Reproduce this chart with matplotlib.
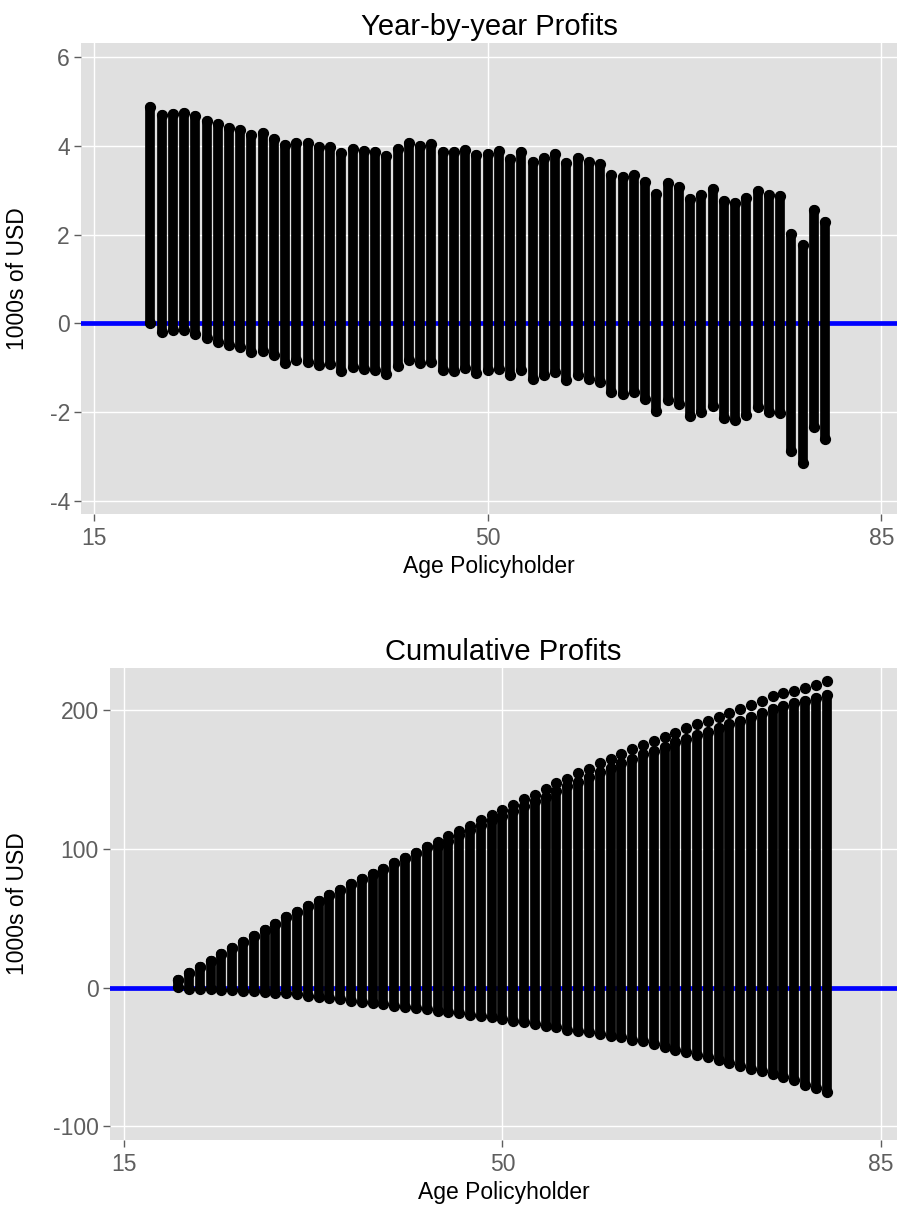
import numpy as np
import matplotlib
matplotlib.use("Agg")
from matplotlib import pyplot as plt

plt.rcParams['font.family'] = ['Liberation Sans', 'DejaVu Sans']
plt.rcParams['axes.unicode_minus'] = False

ages = list(range(20, 81))

# year-by-year profits, 1000s of USD (highest and lowest simulated value per age)
year_max = [4.87, 4.70, 4.72, 4.74, 4.66, 4.56, 4.48, 4.40, 4.35, 4.24,
            4.28, 4.15, 4.02, 4.07, 4.05, 3.97, 3.98, 3.83, 3.93, 3.88,
            3.86, 3.77, 3.93, 4.06, 4.00, 4.03, 3.86, 3.85, 3.91, 3.80,
            3.82, 3.87, 3.70, 3.85, 3.63, 3.72, 3.81, 3.61, 3.72, 3.63,
            3.58, 3.35, 3.30, 3.35, 3.18, 2.91, 3.17, 3.06, 2.81, 2.90,
            3.03, 2.76, 2.72, 2.82, 2.99, 2.88, 2.86, 2.02, 1.76, 2.56,
            2.29]
year_min = [0.00, -0.19, -0.15, -0.14, -0.23, -0.32, -0.41, -0.49, -0.53, -0.65,
            -0.61, -0.72, -0.89, -0.83, -0.86, -0.94, -0.92, -1.07, -0.97, -1.03,
            -1.04, -1.13, -0.95, -0.83, -0.90, -0.86, -1.04, -1.06, -1.00, -1.11,
            -1.05, -1.02, -1.17, -1.04, -1.25, -1.16, -1.10, -1.27, -1.16, -1.25,
            -1.31, -1.54, -1.58, -1.55, -1.70, -1.98, -1.72, -1.82, -2.08, -1.99,
            -1.86, -2.13, -2.17, -2.06, -1.89, -2.00, -2.02, -2.87, -3.14, -2.33,
            -2.60]

# cumulative profits: top dot, top of the dense body, lowest dot
cum_max = [5.5, 10.3, 14.9, 19.5, 24.0, 28.6, 33.2, 37.5, 41.8, 45.9,
           50.7, 54.8, 58.6, 62.7, 66.8, 70.2, 74.5, 78.4, 82.0, 85.8,
           89.9, 93.2, 97.3, 101.4, 105.3, 109.4, 113.0, 116.8, 121.1, 124.5,
           128.4, 132.0, 136.0, 139.0, 143.0, 147.3, 150.7, 154.5, 158.0, 161.7,
           164.9, 168.5, 171.8, 174.7, 178.0, 181.0, 183.8, 187.0, 190.0, 192.5,
           195.4, 198.0, 201.0, 204.0, 207.0, 210.0, 212.7, 214.0, 216.0, 218.5,
           220.8]
cum_body = [5.5, 10.3, 14.9, 19.5, 24.0, 28.6, 33.2, 37.5, 41.8, 45.9,
            50.7, 54.8, 58.6, 62.7, 66.8, 70.2, 74.5, 78.4, 82.0, 85.8,
            89.9, 93.2, 97.3, 101.4, 102.0, 106.0, 110.0, 113.5, 117.5, 121.0,
            124.0, 127.6, 131.0, 134.8, 137.7, 142.0, 145.4, 148.3, 152.0, 155.7,
            158.6, 162.0, 165.0, 168.5, 171.0, 173.8, 177.0, 179.5, 182.0, 184.6,
            187.5, 190.0, 192.5, 195.4, 198.0, 201.0, 203.3, 205.5, 207.0, 209.0,
            211.2]
cum_min = [0.2, -1.0, -1.0, -1.0, -1.4, -1.7, -2.2, -2.6, -3.1, -3.6,
           -4.1, -4.6, -5.8, -6.5, -7.2, -8.2, -9.4, -10.1, -11.3, -12.0,
           -13.0, -14.2, -14.9, -15.6, -16.8, -17.3, -18.5, -19.7, -20.4, -21.4,
           -22.7, -23.8, -25.0, -26.2, -27.4, -28.8, -30.3, -31.5, -32.2, -33.2,
           -34.6, -36.0, -37.5, -38.9, -40.9, -43.0, -44.7, -46.4, -48.3, -50.2,
           -51.9, -54.1, -56.5, -58.4, -60.3, -62.2, -64.2, -67.0, -70.4, -72.6,
           -75.2]

x_ticks = [15, 50, 85]
year_ticks = [-4, -2, 0, 2, 4, 6]
cum_ticks = [-100, 0, 100, 200]

BG = '#e0e0e0'
TICK_GREY = '#5e5e5e'
DOT_LW = 7.0   # points, about one dot diameter
DOT_S = 50


def style_panel(ax, title, yticks, xlim, ylim, ylabel_x):
    ax.set_facecolor(BG)
    for s in ax.spines.values():
        s.set_visible(False)
    ax.grid(True, color='white', linewidth=1.0)
    ax.set_axisbelow(True)
    ax.set_xlim(*xlim)
    ax.set_ylim(*ylim)
    ax.set_xticks(x_ticks)
    ax.set_yticks(yticks)
    ax.tick_params(colors=TICK_GREY, labelsize=16.5, length=5, width=1, pad=3)
    ax.tick_params(axis='x', pad=4)
    ax.set_title(title, fontsize=21, pad=6)
    ax.set_xlabel("Age Policyholder", fontsize=16.5, labelpad=4)
    ax.set_ylabel("1000s of USD", fontsize=16.5)
    ax.yaxis.set_label_coords(ylabel_x, 0.5)


fig = plt.figure(figsize=(8.97, 12.05), dpi=100)

ax1 = fig.add_axes([0.0903, 0.5734, 0.9097, 0.3909])
style_panel(ax1, "Year-by-year Profits", year_ticks, (13.84, 86.4), (-4.29, 6.31), -0.064)
ax1.axhline(0, color='blue', linewidth=3.4, zorder=2)
ax1.vlines(ages, year_min, year_max, color='black', linewidth=DOT_LW,
           capstyle='round', zorder=3)
ax1.scatter(ages, year_max, s=DOT_S, color='black', zorder=4)
ax1.scatter(ages, year_min, s=DOT_S, color='black', zorder=4)

ax2 = fig.add_axes([0.1226, 0.0539, 0.8774, 0.3917])
style_panel(ax2, "Cumulative Profits", cum_ticks, (13.7, 86.5), (-110, 230.5), -0.103)
ax2.axhline(0, color='blue', linewidth=3.4, zorder=2)
ax2.vlines(ages, cum_min, cum_body, color='black', linewidth=DOT_LW,
           capstyle='round', zorder=3)
ax2.scatter(ages, cum_max, s=DOT_S, color='black', zorder=4)
ax2.scatter(ages, cum_body, s=DOT_S, color='black', zorder=4)
ax2.scatter(ages, cum_min, s=DOT_S, color='black', zorder=4)

plt.savefig("out.png", dpi=100)
plt.close()
